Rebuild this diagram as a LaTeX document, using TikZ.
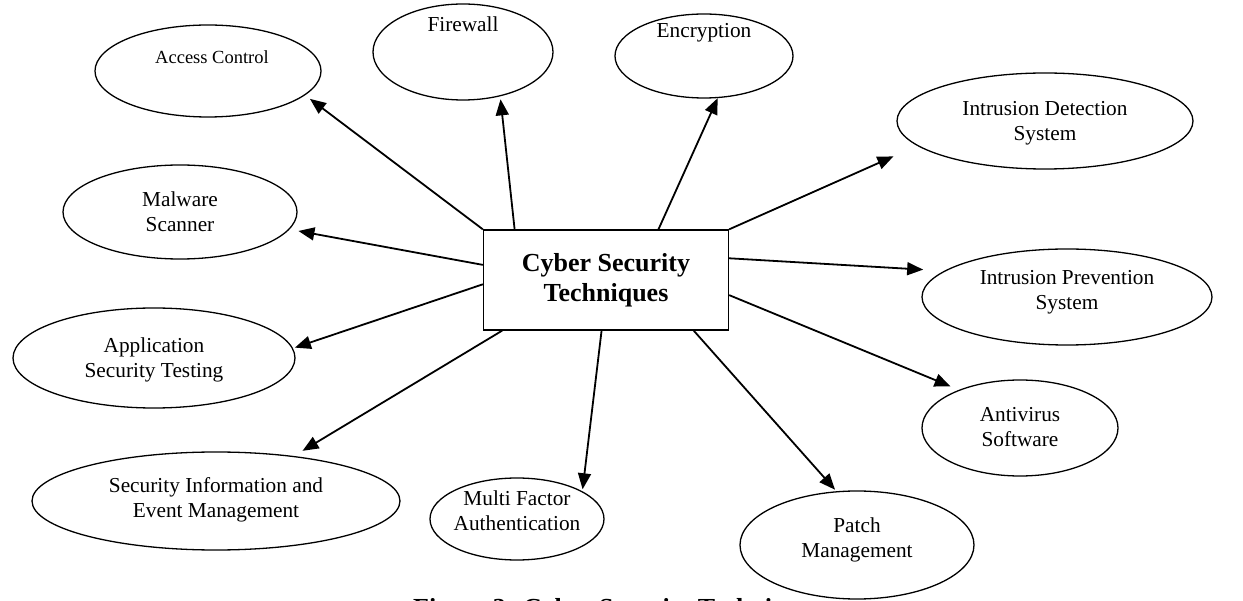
\documentclass[tikz,border=0pt]{standalone}
\usepackage{fontspec}
\setmainfont{Liberation Serif}
\usetikzlibrary{shapes.geometric,arrows.meta}
\begin{document}
\begin{tikzpicture}[x=1pt,y=-1pt,
  ell/.style={draw,line width=1.3pt,ellipse,fill=white,inner sep=0pt},
  lbl/.style={font=\fontsize{21.3}{25}\selectfont,align=center,inner sep=0pt},
  arr/.style={line width=1.8pt,-{Triangle[length=16pt,width=13pt]}}]
\useasboundingbox (0,0) rectangle (1243,601);
% caption (partly cut by page edge)
\node[font=\bfseries\fontsize{26}{30}\selectfont,anchor=base west,inner sep=0pt] (cap) at (413,616) {Figure 3: Cyber Security Techniques};
% centre box
\node[draw,line width=1.3pt,minimum width=245pt,minimum height=100pt,inner sep=0pt,
      font=\bfseries\fontsize{26}{30}\selectfont,align=center] (box) at (606,280) {Cyber Security\\Techniques};
% ellipses
\node[ell,minimum width=226pt,minimum height=92pt] (ac) at (208,71) {};
\node[ell,minimum width=180pt,minimum height=96pt] (fw) at (463,52) {};
\node[ell,minimum width=178pt,minimum height=84pt] (enc) at (704,56) {};
\node[ell,minimum width=296pt,minimum height=96pt] (ids) at (1045,121) {};
\node[ell,minimum width=234pt,minimum height=94pt] (mal) at (180,212) {};
\node[ell,minimum width=290pt,minimum height=96pt] (ips) at (1067,297) {};
\node[ell,minimum width=282pt,minimum height=100pt] (ast) at (154,358) {};
\node[ell,minimum width=196pt,minimum height=96pt] (av) at (1020,428) {};
\node[ell,minimum width=368pt,minimum height=98pt] (siem) at (216,501) {};
\node[ell,minimum width=174pt,minimum height=82pt] (mfa) at (517,519) {};
\node[ell,minimum width=234pt,minimum height=108pt] (pm) at (857,545) {};
% labels
\node[lbl,font=\fontsize{18.5}{22}\selectfont] (acT) at (212,57) {Access Control};
\node[lbl] (fwT) at (463,24) {Firewall};
\node[lbl] (encT) at (704,33) {Encryption};
\node[lbl] (idsT) at (1045,123.5) {Intrusion Detection\\System};
\node[lbl] (malT) at (180,211.5) {Malware\\Scanner};
\node[lbl] (ipsT) at (1067,292.5) {Intrusion Prevention\\System};
\node[lbl] (astT) at (154,359.5) {Application\\Security Testing};
\node[lbl] (avT) at (1020,427.5) {Antivirus\\Software};
\node[lbl] (siemT) at (216,499.5) {Security Information and\\Event Management};
\node[lbl] (mfaT) at (517,511) {Multi Factor\\Authentication};
\node[lbl] (pmT) at (857,540) {Patch\\Management};
% arrows
\draw[arr,shorten >=6pt] (box.north west) -- (ac.-14.8);
\draw[arr,shorten >=3pt] (box.151.5) -- (fw.-50);
\draw[arr,shorten >=0pt] (box.44.4) -- (enc.-72.4);
\draw[arr,shorten >=26pt] (box.north east) -- (ids.191.7);
\draw[arr,shorten >=9pt] (box.173.9) -- (mal.-9.7);
\draw[arr,shorten >=21pt] (box.10.2) -- (ips.168.7);
\draw[arr,shorten >=2pt] (box.182.8) -- (ast.4);
\draw[arr,shorten >=9pt] (box.-7.9) -- (av.148.7);
\draw[arr,shorten >=10pt] (box.-154.3) -- (siem.30);
\draw[arr,shorten >=2pt] (box.-95.5) -- (mfa.23.7);
\draw[arr,shorten >=2pt] (box.-30.2) -- (pm.111.8);
\end{tikzpicture}
\end{document}
